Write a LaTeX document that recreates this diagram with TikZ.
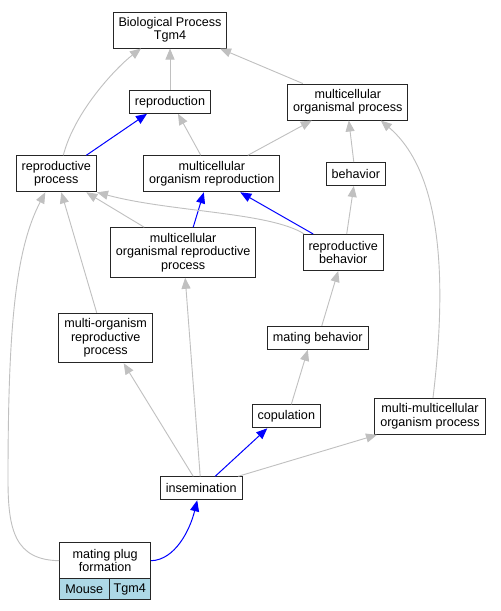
\documentclass[tikz,border=0pt]{standalone}
\usepackage{fontspec}
\setmainfont{Liberation Sans}
\usetikzlibrary{arrows.meta}
\definecolor{cellblue}{HTML}{ADD8E6}
\definecolor{edgegray}{HTML}{C0C0C0}

\begin{document}
\begin{tikzpicture}[x=1pt, y=-1pt]
	\tikzstyle{term}=[draw=black!85, line width=1pt, fill=white, align=center,
	                  inner xsep=5.5pt, inner ysep=0pt, minimum height=23pt,
	                  font=\fontsize{12.6}{13.3}\selectfont];
	\tikzstyle{tall2}=[minimum height=36pt];
	\tikzstyle{tall3}=[minimum height=49.6pt];
	\tikzstyle{cell}=[draw=black!85, line width=1pt, fill=cellblue, inner sep=0pt,
	                  minimum height=21.3pt, font=\fontsize{12.6}{13.3}\selectfont];
	\tikzstyle{up}=[draw=edgegray, line width=0.9pt, -{Triangle[length=11pt, width=9pt]}];
	\tikzstyle{upblue}=[draw=blue, line width=1pt, -{Triangle[length=11pt, width=9pt]}];
	\fill[white] (0,0) rectangle (501,611);
	\useasboundingbox (0,0) rectangle (501,611);
	% terms
	\node[term, tall2] (bp) at (170,30) {Biological Process\\Tgm4};
	\node[term] (repro) at (170,101.8) {reproduction};
	\node[term, tall2] (mcop) at (347.8,102) {multicellular\\organismal process};
	\node[term, tall2] (rp) at (56.3,173.8) {reproductive\\process};
	\node[term, tall2] (mcor) at (211.8,173.8) {multicellular\\organism reproduction};
	\node[term] (beh) at (355.8,174) {behavior};
	\node[term, tall3] (mcorp) at (183.2,252.5) {multicellular\\organismal reproductive\\process};
	\node[term, tall2] (rb) at (343.2,252.5) {reproductive\\behavior};
	\node[term, tall3] (morp) at (105.7,338) {multi-organism\\reproductive\\process};
	\node[term] (mb) at (317.8,337.8) {mating behavior};
	\node[term] (cop) at (286.3,416.3) {copulation};
	\node[term, tall2] (mmop) at (430,416.3) {multi-multicellular\\organism process};
	\node[term] (ins) at (201.2,488.3) {insemination};
	\node[term, tall2, minimum width=91pt] (mpf) at (105.2,560.7) {mating plug\\formation};
	\node[cell, minimum width=49.3pt] (mouse) at (84.35,589.3) {Mouse};
	\node[cell, minimum width=41.7pt] (tgm) at (129.85,589.3) {Tgm4};
	% edges
	\draw[up] ([xshift=7pt]rp.north) .. controls (75,110) and (118,66) .. ([xshift=-29pt]bp.south);
	\draw[up] (repro.north) -- (bp.south);
	\draw[up] ([xshift=-45pt]mcop.north) -- ([xshift=50pt]bp.south);
	\draw[upblue] ([xshift=30pt]rp.north) -- ([xshift=-23pt]repro.south);
	\draw[up] ([xshift=-11pt]mcor.north) -- ([xshift=8pt]repro.south);
	\draw[up] ([xshift=36pt]mcor.north) -- ([xshift=-36pt]mcop.south);
	\draw[up] ([xshift=-2pt]beh.north) -- ([xshift=1pt]mcop.south);
	\draw[up] ([xshift=3pt]mmop.north) .. controls (446,290) and (445,175) .. ([xshift=33pt]mcop.south);
	\draw[up] ([xshift=-39pt]mcorp.north) -- ([xshift=30pt]rp.south);
	\draw[upblue] ([xshift=10pt]mcorp.north) -- ([xshift=-8pt]mcor.south);
	\draw[upblue] ([xshift=-30pt]rb.north) -- ([xshift=28.5pt]mcor.south);
	\draw[up] ([xshift=-39pt]rb.north) .. controls (270,212) and (170,212) .. (rp.south east);
	\draw[up] ([xshift=3.5pt]rb.north) -- ([xshift=-2pt]beh.south);
	\draw[up] ([xshift=-9pt]morp.north) -- ([xshift=5pt]rp.south);
	\draw[up] (mpf.west) .. controls (15,560) and (8,530) .. (8,480)
	          .. controls (8,330) and (15,250) .. ([xshift=-11pt]rp.south);
	\draw[up] ([xshift=4pt]mb.north) -- ([xshift=-5pt]rb.south);
	\draw[up] ([xshift=5pt]cop.north) -- ([xshift=-10pt]mb.south);
	\draw[up] ([xshift=-8pt]ins.north) -- ([xshift=18pt]morp.south);
	\draw[up] ([xshift=-1pt]ins.north) -- ([xshift=2pt]mcorp.south);
	\draw[upblue] ([xshift=14pt]ins.north) -- ([xshift=-19pt]cop.south);
	\draw[up] ([xshift=37pt]ins.north) -- ([xshift=-53pt]mmop.south);
	\draw[upblue] (mpf.east) .. controls (175,560) and (190,530) .. ([xshift=-4pt]ins.south);
\end{tikzpicture}
\end{document}
